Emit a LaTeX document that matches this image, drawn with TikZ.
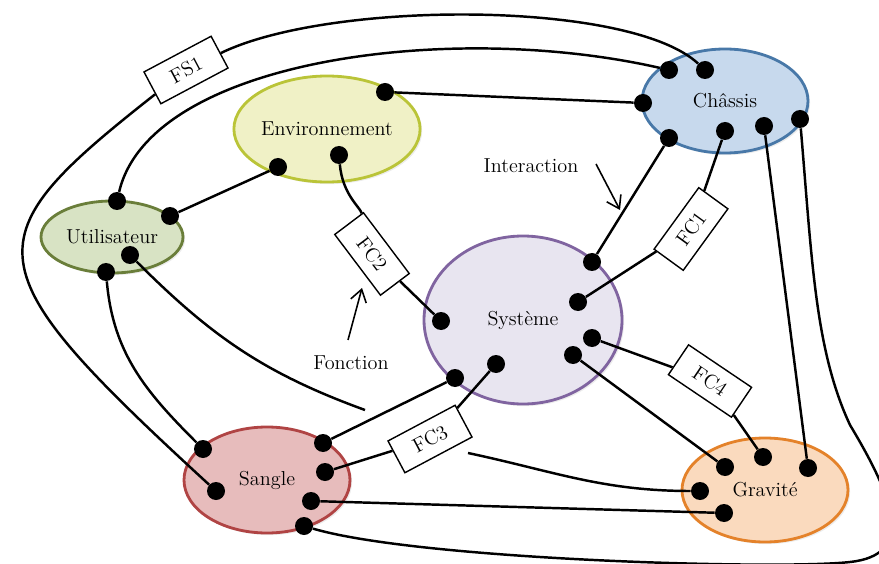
\documentclass[tikz,border=0pt]{standalone}
\usepackage{fontspec}
\usepackage{tikz}
\usetikzlibrary{
  arrows.meta,
  shapes.geometric,
  shadows
}
\definecolor{EnvFill}{RGB}{240,241,198}
\definecolor{EnvLine}{RGB}{186,196,56}
\definecolor{UserFill}{RGB}{216,227,196}
\definecolor{UserLine}{RGB}{106,126,58}
\definecolor{FrameFill}{RGB}{199,217,237}
\definecolor{FrameLine}{RGB}{72,120,168}
\definecolor{SysFill}{RGB}{232,229,240}
\definecolor{SysLine}{RGB}{128,100,160}
\definecolor{StrapFill}{RGB}{231,188,188}
\definecolor{StrapLine}{RGB}{176,68,68}
\definecolor{GravFill}{RGB}{250,218,190}
\definecolor{GravLine}{RGB}{228,130,42}
\tikzset{
  elem/.style={
    ellipse,
    line width=1.6pt,
    inner sep=0pt,
    font=\fontsize{11.5}{13}\selectfont,
    drop shadow={opacity=0.15, shadow xshift=1.2pt, shadow yshift=-1.2pt}
  },
  envelem/.style={elem,draw=EnvLine,fill=EnvFill},
  userelem/.style={elem,draw=UserLine,fill=UserFill},
  frameelem/.style={elem,draw=FrameLine,fill=FrameFill},
  syselem/.style={elem,draw=SysLine,fill=SysFill},
  strapelem/.style={elem,draw=StrapLine,fill=StrapFill},
  gravelem/.style={elem,draw=GravLine,fill=GravFill},
  joint/.style={circle,fill=black,inner sep=0pt,minimum size=3.6mm},
  fnbox/.style={
    draw,
    fill=white,
    line width=0.8pt,
    minimum width=1.52cm,
    minimum height=0.72cm,
    inner sep=0pt,
    font=\fontsize{11.5}{12}\selectfont
  },
  link/.style={line width=1.4pt},
  pointer/.style={-{Straight Barb[length=2.4mm,width=3.2mm]},line width=0.9pt},
  tag/.style={font=\fontsize{11.5}{13}\selectfont}
}

\begin{document}
\begin{tikzpicture}[x=0.2mm, y=0.2mm]
  \useasboundingbox (0,0) rectangle (879,-564);

  \node[envelem, minimum width=3.28cm, minimum height=2.12cm] (env) at (327,-129) {Environnement};
  \node[userelem, minimum width=2.84cm, minimum height=1.44cm] (util) at (112,-237) {Utilisateur};
  \node[frameelem, minimum width=3.32cm, minimum height=2.08cm] (chas) at (725,-101) {Châssis};
  \node[syselem, minimum width=3.96cm, minimum height=3.36cm] (sys) at (523,-320) {Système};
  \node[strapelem, minimum width=3.32cm, minimum height=2.12cm] (sang) at (267,-480) {Sangle};
  \node[gravelem, minimum width=3.32cm, minimum height=2.08cm] (grav) at (765,-490) {Gravité};

  \node[joint] (env1) at (385,-92) {};
  \node[joint] (env2) at (339,-155) {};
  \node[joint] (env3) at (278,-167) {};
  \node[joint] (util1) at (117,-201) {};
  \node[joint] (util2) at (170,-216) {};
  \node[joint] (util3) at (130,-255) {};
  \node[joint] (util4) at (106,-272) {};
  \node[joint] (chas1) at (669,-70) {};
  \node[joint] (chas2) at (705,-70) {};
  \node[joint] (chas3) at (643,-103) {};
  \node[joint] (chas4) at (669,-138) {};
  \node[joint] (chas5) at (725,-131) {};
  \node[joint] (chas6) at (764,-126) {};
  \node[joint] (chas7) at (800,-119) {};
  \node[joint] (sys1) at (592,-262) {};
  \node[joint] (sys2) at (578,-302) {};
  \node[joint] (sys3) at (592,-338) {};
  \node[joint] (sys4) at (573,-355) {};
  \node[joint] (sys5) at (496,-364) {};
  \node[joint] (sys6) at (455,-378) {};
  \node[joint] (sys7) at (441,-321) {};
  \node[joint] (sang1) at (203,-449) {};
  \node[joint] (sang2) at (216,-491) {};
  \node[joint] (sang3) at (323,-443) {};
  \node[joint] (sang4) at (325,-472) {};
  \node[joint] (sang5) at (311,-501) {};
  \node[joint] (sang6) at (304,-526) {};
  \node[joint] (grav1) at (725,-467) {};
  \node[joint] (grav2) at (763,-457) {};
  \node[joint] (grav3) at (808,-468) {};
  \node[joint] (grav4) at (700,-491) {};
  \node[joint] (grav5) at (724,-513) {};

  \node[fnbox, rotate=28] (fs1) at (186,-70) {FS1};
  \node[fnbox, rotate=54] (fc1) at (691,-229) {FC1};
  \node[fnbox, rotate=-53] (fc2) at (372,-254) {FC2};
  \node[fnbox, rotate=28] (fc3) at (430,-439) {FC3};
  \node[fnbox, rotate=-34] (fc4) at (710,-381) {FC4};

  \node[tag] (interaction) at (531,-166) {Interaction};
  \node[tag] (fonction) at (351,-363) {Fonction};
  \coordinate (inttail) at (596,-164);
  \coordinate (inthead) at (620,-210);
  \coordinate (fontail) at (348,-340);
  \coordinate (fonhead) at (362,-288);
  \coordinate (gapa) at (365,-410);
  \coordinate (gapb) at (468,-453);

  \draw[link] (chas2) .. controls (630,0) and (330,0) .. (fs1);
  \draw[link] (fs1) .. controls (-30,-240) and (-30,-265) .. (sang2);
  \draw[link] (util1) .. controls (150,-60) and (450,-20) .. (chas1);
  \draw[link] (env1) -- (chas3);
  \draw[link] (util2) -- (env3);
  \draw[link] (env2) to[out=-85,in=127] (fc2);
  \draw[link] (fc2) -- (sys7);
  \draw[link] (sys1) -- (chas4);
  \draw[link] (sys2) -- (fc1) -- (chas5);
  \draw[link] (sys6) -- (sang3);
  \draw[link] (sys5) -- (fc3) -- (sang4);
  \draw[link] (sys4) -- (grav1);
  \draw[link] (sys3) -- (fc4) -- (grav2);
  \draw[link] (util3) to[out=-45,in=160] (gapa);
  \draw[link] (gapb) to[out=-12,in=180] (grav4);
  \draw[link] (util4) to[out=-85,in=135] (sang1);
  \draw[link] (sang5) -- (grav5);
  \draw[link] (chas6) -- (grav3);
  \draw[link] (chas7) .. controls (812,-260) and (815,-350) .. (850,-425)
    .. controls (895,-500) and (915,-555) .. (850,-562)
    .. controls (780,-570) and (420,-560) .. (sang6);

  \draw[pointer] (inttail) -- (inthead);
  \draw[pointer] (fontail) -- (fonhead);
\end{tikzpicture}
\end{document}
